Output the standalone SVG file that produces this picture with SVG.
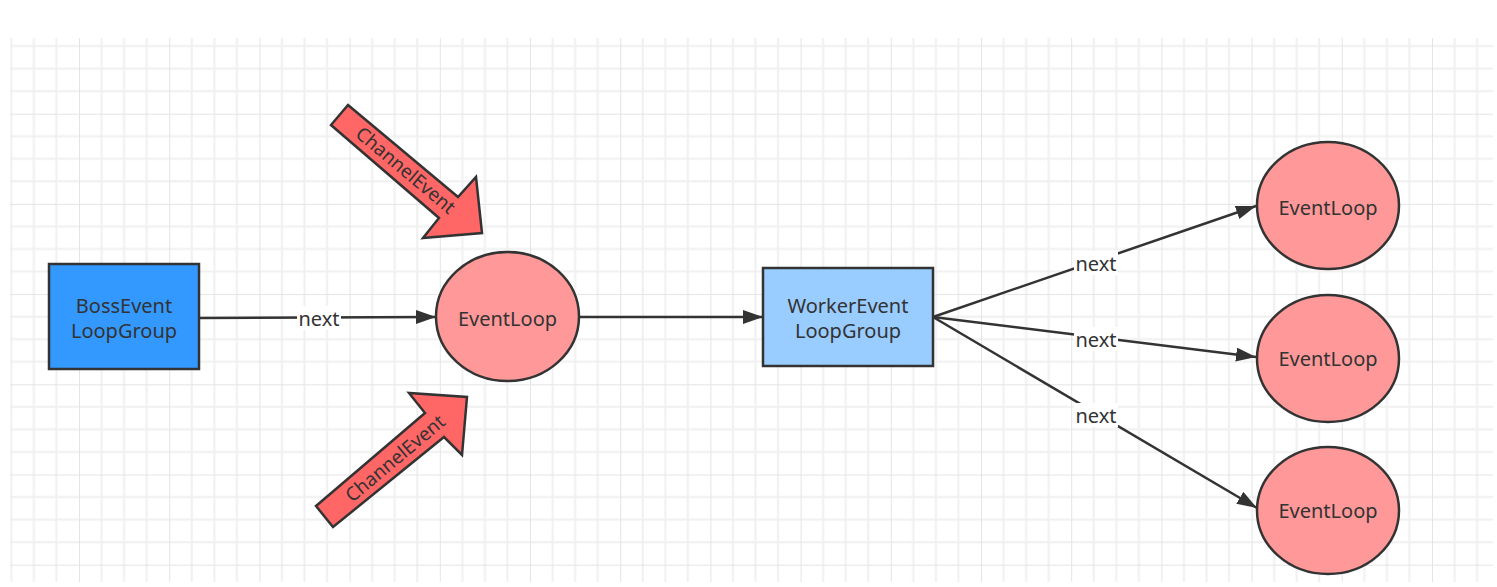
<svg xmlns="http://www.w3.org/2000/svg" width="1497" height="587" viewBox="0 0 1497 587">
<defs>
<pattern id="grid" patternUnits="userSpaceOnUse" x="79" y="113.7" width="90.2" height="90.2">
<path d="M22.55 0V90.2M45.1 0V90.2M67.65 0V90.2M0 22.55H90.2M0 45.1H90.2M0 67.65H90.2" stroke="#f0f0f0" stroke-width="2" fill="none"/>
<path d="M0 0V90.2M0 0H90.2" stroke="#e4e4e4" stroke-width="2" fill="none"/>
</pattern>
<marker id="ah" markerUnits="userSpaceOnUse" markerWidth="22" markerHeight="16" refX="20" refY="7" orient="auto">
<path d="M0 0L20 7L0 14Z" fill="#333"/>
</marker>
<style>
.n{stroke:#333;stroke-width:2.5}
.t{font-family:"Noto Sans","Open Sans","DejaVu Sans",sans-serif;font-size:20px;fill:#333;text-anchor:middle;dominant-baseline:central}
.ce{font-size:19px}
.c{stroke:#333;stroke-width:2.5;fill:none;marker-end:url(#ah)}
.lb{fill:#fff}
.ba{fill:#ff6666;stroke:#333;stroke-width:2.5;stroke-linejoin:miter}
</style>
</defs>
<rect width="1497" height="587" fill="#fff"/>
<rect x="10" y="38" width="1483" height="544" fill="url(#grid)"/>
<g id="connectors">
<line class="c" x1="200" y1="318" x2="436" y2="317"/>
<line class="c" x1="579" y1="317" x2="763" y2="317"/>
<line class="c" x1="933" y1="317" x2="1256" y2="206"/>
<line class="c" x1="933" y1="317" x2="1256" y2="357"/>
<line class="c" x1="933" y1="317" x2="1257" y2="508"/>
<rect class="lb" x="297" y="306" width="44" height="24"/>
<text class="t" x="319" y="318">next</text>
<rect class="lb" x="1074" y="251" width="44" height="24"/>
<text class="t" x="1096" y="263">next</text>
<rect class="lb" x="1074" y="327" width="44" height="24"/>
<text class="t" x="1096" y="339">next</text>
<rect class="lb" x="1074" y="403" width="44" height="24"/>
<text class="t" x="1096" y="415">next</text>
</g>
<g id="boss">
<rect class="n" x="49" y="264" width="150" height="105" fill="#3399ff"/>
<text class="t" x="124" y="305">BossEvent</text>
<text class="t" x="124" y="330">LoopGroup</text>
</g>
<g id="eventloop-main">
<ellipse class="n" cx="507.5" cy="316.5" rx="71.5" ry="64.5" fill="#ff9999"/>
<text class="t" x="507.5" y="318">EventLoop</text>
</g>
<g id="worker">
<rect class="n" x="763" y="268" width="170" height="98" fill="#99ccff"/>
<text class="t" x="848" y="305">WorkerEvent</text>
<text class="t" x="848" y="330">LoopGroup</text>
</g>
<g id="eventloop-1">
<ellipse class="n" cx="1328" cy="205.5" rx="71" ry="63.5" fill="#ff9999"/>
<text class="t" x="1328" y="207">EventLoop</text>
</g>
<g id="eventloop-2">
<ellipse class="n" cx="1328" cy="358.5" rx="71" ry="63.5" fill="#ff9999"/>
<text class="t" x="1328" y="358">EventLoop</text>
</g>
<g id="eventloop-3">
<ellipse class="n" cx="1328" cy="510.5" rx="71" ry="63.5" fill="#ff9999"/>
<text class="t" x="1328" y="510">EventLoop</text>
</g>
<g id="channel-event-top">
<polygon class="ba" points="348,105 458,197 476,177 482,233 423,238 439,218 331,125"/>
<text class="t ce" x="406" y="170" transform="rotate(40 406 170)">ChannelEvent</text>
</g>
<g id="channel-event-bottom">
<polygon class="ba" points="316,506 425,413 409,393 467,397 462,455 444,437 333,527"/>
<text class="t ce" x="395" y="458" transform="rotate(-40 395 458)">ChannelEvent</text>
</g>
</svg>
